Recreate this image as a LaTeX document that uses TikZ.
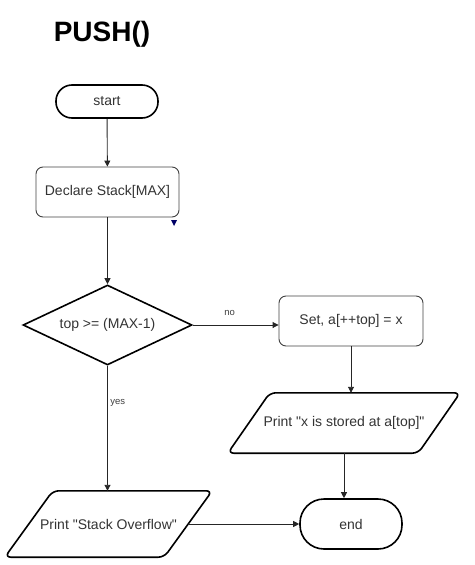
\documentclass[tikz,border=0pt]{standalone}
\usepackage{fontspec}
\setmainfont{Liberation Sans}[Ligatures=TeXOff]
\usetikzlibrary{shapes.geometric,arrows.meta}
\begin{document}
\begin{tikzpicture}[x=1pt,y=-1pt,
  txt/.style={text=black!80,font=\fontsize{14}{16}\selectfont},
  term/.style={txt,draw=black,line width=1.6pt,rounded corners=16pt,minimum width=102pt,minimum height=33pt,inner sep=0pt},
  proc/.style={txt,draw=black!75,line width=0.9pt,rounded corners=7pt,inner sep=0pt},
  dec/.style={txt,draw=black,line width=1.6pt,diamond,aspect=2.11,inner sep=0pt,minimum width=169pt,minimum height=80pt},
  io/.style={txt,inner sep=0pt},
  ioline/.style={draw=black,line width=1.6pt,rounded corners=6pt},
  arr/.style={draw=black!85,line width=0.9pt,-{Triangle[length=6pt,width=6pt]}},
  lbl/.style={text=black!75,font=\fontsize{9.5}{11}\selectfont}]
\useasboundingbox (0,0) rectangle (474,565);
\node[font=\bfseries\fontsize{28}{32}\selectfont,text=black] (title) at (102,34) {PUSH()};
\node[term] (start) at (107,101.5) {start};
\node[proc,minimum width=143pt,minimum height=50pt] (decl) at (107.5,192) {Declare Stack[MAX]};
\node[dec] (cond) at (107.5,325) {top >= (MAX-1)};
\node[proc,minimum width=144pt,minimum height=50pt] (set) at (351,321) {Set, a[++top] = x};
\node[io,minimum width=232pt,minimum height=60pt] (pr1) at (344,423) {Print "x is stored at a[top]"};
\draw[ioline] (pr1.south west) -- ([xshift=42pt]pr1.north west) -- (pr1.north east) -- ([xshift=-42pt]pr1.south east) -- cycle;
\node[io,minimum width=207pt,minimum height=66pt] (pr2) at (108.5,524) {Print "Stack Overflow"};
\draw[ioline] (pr2.south west) -- ([xshift=48pt]pr2.north west) -- (pr2.north east) -- ([xshift=-48pt]pr2.south east) -- cycle;
\coordinate (pr2r) at ([xshift=-24pt]pr2.east);
\node[term,minimum height=50pt,rounded corners=24pt] (end) at (351,524) {end};
\fill[fill=blue!40!black] (171,220) -- (177,220) -- (174,226) -- cycle;
\draw[arr] (start) -- (decl);
\draw[arr] (decl) -- (cond);
\draw[arr] (cond.east) -- node[lbl,above=6pt,pos=0.43]{no} (cond.east -| set.west);
\draw[arr] (set.south) -- (set.south |- pr1.north);
\draw[arr] (pr1.south) -- (pr1.south |- end.north);
\draw[arr] (cond.south) -- node[lbl,right=-1pt,pos=0.3]{yes} (cond.south |- pr2.north);
\draw[arr] (pr2r) -- (end.west);
\end{tikzpicture}
\end{document}
